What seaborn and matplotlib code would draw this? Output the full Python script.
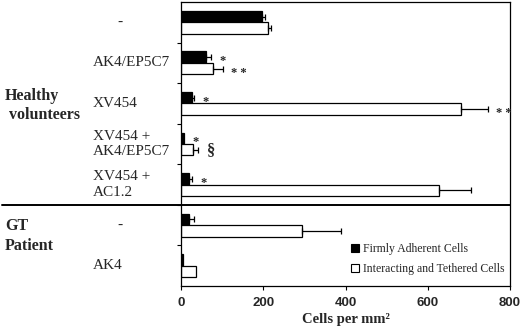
import numpy as np
import pandas as pd
import matplotlib
matplotlib.use("Agg")
import matplotlib.pyplot as plt
import seaborn as sns
from matplotlib.patches import Patch

# Values (cells per mm^2)
cohorts = ["Healthy volunteers"] * 5 + ["GT Patient"] * 2
conditions = ["-", "AK4/EP5C7", "XV454", "XV454 +\nAK4/EP5C7", "XV454 +\nAC1.2", "-", "AK4"]
firm_vals = [196, 60, 26, 7, 19, 19, 5]
firm_err = [8, 13, 6, 0, 8, 13, 0]
tether_vals = [211, 79, 680, 30, 628, 295, 37]
tether_err = [8, 22, 66, 12, 78, 94, 0]
firm_marks = ["", "*", "*", "*", "*", "", ""]
tether_marks = ["", "* *", "* *", "\u00a7", "", "", ""]
series = ["Firmly Adherent Cells", "Interacting and Tethered Cells"]
x_ticks = [0, 200, 400, 600, 800]

keys = [f"{i}|{c}" for i, c in enumerate(conditions)]
df = pd.DataFrame({
    "key": keys * 2,
    "value": firm_vals + tether_vals,
    "series": [series[0]] * len(keys) + [series[1]] * len(keys),
})

sns.set_style("ticks")
plt.rcParams["font.family"] = ["Liberation Serif", "DejaVu Serif"]

fig = plt.figure(figsize=(5.2, 3.29), dpi=100)
ax = fig.add_axes([181 / 520, 1 - 286 / 329, 329 / 520, 284 / 329])

sns.barplot(data=df, y="key", x="value", hue="series", hue_order=series,
            palette=["black", "white"], orient="h", width=0.56, saturation=1,
            edgecolor="black", linewidth=0.9, errorbar=None, legend=False, ax=ax)

# one-sided error bars + significance marks
for cont, errs, marks in zip(ax.containers, [firm_err, tether_err], [firm_marks, tether_marks]):
    for bar, e, m in zip(cont, errs, marks):
        y = bar.get_y() + bar.get_height() / 2
        x = bar.get_width()
        if e > 0:
            ax.errorbar(x, y, xerr=[[0], [e]], fmt="none", ecolor="black",
                        elinewidth=0.9, capsize=2.2, capthick=0.9)
        if m:
            size = 12 if m == "\u00a7" else 9
            dy = 0 if m == "\u00a7" else -3
            ax.annotate(m, (x + e, y), xytext=(6, dy), textcoords="offset points",
                        ha="left", va="center", fontsize=size, fontweight="bold")

ax.set_xlim(0, 800)
ax.set_ylim(len(keys) - 0.5, -0.5)
ax.set_xticks(x_ticks)
ax.set_xticklabels([str(t) for t in x_ticks], family="Liberation Sans",
                   fontweight="bold", fontsize=9.5)
ax.set_yticks(np.arange(0.5, len(keys) - 0.5, 1.0))
ax.set_yticklabels([])
ax.tick_params(axis="both", direction="out", length=3, width=0.8, color="black")
ax.tick_params(axis="x", pad=5)
for s in ax.spines.values():
    s.set_visible(True)
    s.set_color("black")
    s.set_linewidth(0.9)
ax.set_xlabel("Cells per mm\u00b2", fontsize=10.5, fontweight="bold", labelpad=3)
ax.set_ylabel("")

# condition labels on the left
tr = ax.get_yaxis_transform()
for i, c in enumerate(conditions):
    if c == "-":
        ax.text((120 - 181) / 329, i, c, transform=tr, ha="center", va="center",
                fontsize=11)
    else:
        ax.text((93 - 181) / 329, i, c, transform=tr, ha="left", va="center",
                fontsize=11, linespacing=1.25)

# cohort labels
ax.text((5 - 181) / 329, 2.05, "Healthy\n volunteers", transform=tr, ha="left",
        va="center", fontsize=11.5, fontweight="bold", linespacing=1.3)
ax.text((5 - 181) / 329, 5.27, "GT\nPatient", transform=tr, ha="left",
        va="center", fontsize=11.5, fontweight="bold", linespacing=1.3)

# separator between cohorts
ax.axhline(4.5, xmin=-179 / 329, xmax=1, color="black", lw=1.4, clip_on=False)

handles = [Patch(facecolor="black", edgecolor="black", lw=0.8),
           Patch(facecolor="white", edgecolor="black", lw=0.8)]
ax.legend(handles, series, loc="lower right", bbox_to_anchor=(0.99, 0.03),
          frameon=False, fontsize=8.5, handlelength=0.7, handleheight=0.7,
          handletextpad=0.3, labelspacing=0.7, borderpad=0.2, borderaxespad=0)

fig.savefig("out.png", dpi=100)
